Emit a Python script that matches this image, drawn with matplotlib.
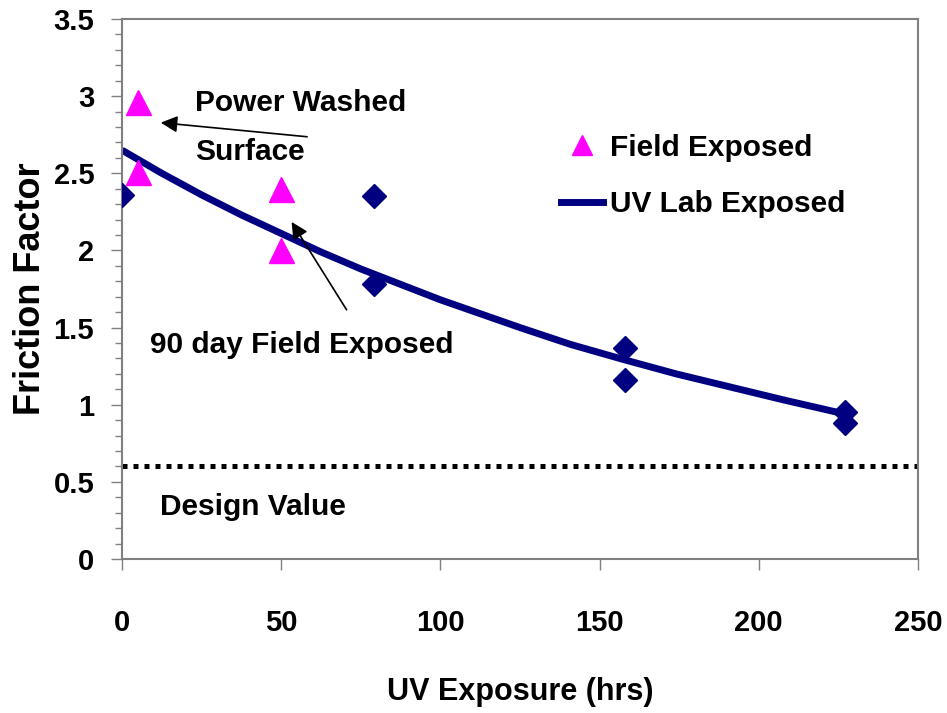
import numpy as np
import matplotlib.pyplot as plt
from matplotlib.lines import Line2D
from matplotlib import font_manager

# Data
lab_x = [0, 79, 79, 158, 158, 227, 227]
lab_y = [2.36, 2.35, 1.78, 1.37, 1.16, 0.95, 0.88]

field_x = [5, 5, 50, 50]
field_y = [2.96, 2.51, 2.40, 2.00]

# trend curve
curve_x = [0, 12.5, 25, 37.5, 50, 62.5, 75, 87.5, 100, 112.5, 125,
           141, 158, 174, 190, 208, 227]
curve_y = [2.65, 2.50, 2.36, 2.23, 2.11, 1.99, 1.88, 1.78, 1.68, 1.59, 1.50,
           1.39, 1.29, 1.20, 1.12, 1.03, 0.94]

design_value = 0.6

installed = {f.name for f in font_manager.fontManager.ttflist}
if 'Liberation Sans Narrow' in installed:
    narrow = ['Liberation Sans Narrow', 'DejaVu Sans']
    nscale = 1.2
else:
    narrow = ['Liberation Sans', 'DejaVu Sans']
    nscale = 1.0
wide = ['Liberation Sans', 'DejaVu Sans']

fig = plt.figure(figsize=(9.47, 7.13), dpi=100)
ax = fig.add_axes([122 / 947, 1 - 559 / 713, 796 / 947, 540 / 713])

ax.plot(curve_x, curve_y, color='#000080', lw=5, solid_capstyle='butt',
        solid_joinstyle='round', zorder=2)
ax.plot(lab_x, lab_y, 'D', color='#000080', ms=12, zorder=3)
ax.plot(field_x, field_y, '^', color='#FF00FF', ms=18, zorder=3)
ax.plot([0, 250], [design_value, design_value], color='black', lw=3.6,
        linestyle=(0, (1, 1.2)), dash_capstyle='butt', zorder=2)

ax.set_xlim(0, 250)
ax.set_ylim(0, 3.5)
ax.set_xticks([0, 50, 100, 150, 200, 250])
ax.set_yticks(np.arange(0, 3.51, 0.5))
ax.set_yticklabels(['0', '0.5', '1', '1.5', '2', '2.5', '3', '3.5'])
ax.set_yticks(np.arange(0, 3.51, 0.1), minor=True)

for s in ax.spines.values():
    s.set_color('#808080')
    s.set_linewidth(1.5)

ax.tick_params(axis='both', which='major', length=8, width=1, color='#808080')
ax.tick_params(axis='y', which='minor', length=5, width=1, color='#808080')
ax.tick_params(axis='x', pad=28)
ax.tick_params(axis='y', pad=12)

for lbl in ax.get_xticklabels() + ax.get_yticklabels():
    lbl.set_family(narrow)
    lbl.set_fontweight('bold')
    lbl.set_fontsize(21 * nscale)

ax.set_xlabel('UV Exposure (hrs)', family=narrow, fontweight='bold',
              fontsize=22 * nscale, labelpad=29)
ax.set_ylabel('Friction Factor', family=wide, fontweight='bold', fontsize=26, labelpad=4)

txt = dict(family=narrow, fontweight='bold', fontsize=21.5 * nscale, va='center', ha='left')
ax.text(23, 2.955, 'Power Washed', **txt)
ax.text(23, 2.64, 'Surface', **txt)
ax.text(8.8, 1.39, '90 day Field Exposed', **txt)
ax.text(11.9, 0.337, 'Design Value', **txt)

arrow = dict(arrowstyle='-|>', color='black', lw=1.2, mutation_scale=25)
ax.annotate('', xy=(11.3, 2.83), xytext=(59, 2.735), arrowprops=arrow)
ax.annotate('', xy=(52.8, 2.20), xytext=(71, 1.60), arrowprops=arrow)

handles = [
    Line2D([], [], marker='^', color='#FF00FF', ls='none', ms=15),
    Line2D([], [], color='#000080', lw=5),
]
ax.legend(handles, ['Field Exposed', 'UV Lab Exposed'], loc='upper left',
          bbox_to_anchor=(0.533, 0.815), frameon=False, borderpad=0,
          handlelength=1.4, handletextpad=0.25, labelspacing=0.95,
          prop={'family': narrow, 'weight': 'bold', 'size': 21.5 * nscale})

fig.savefig('out.png', dpi=100)
